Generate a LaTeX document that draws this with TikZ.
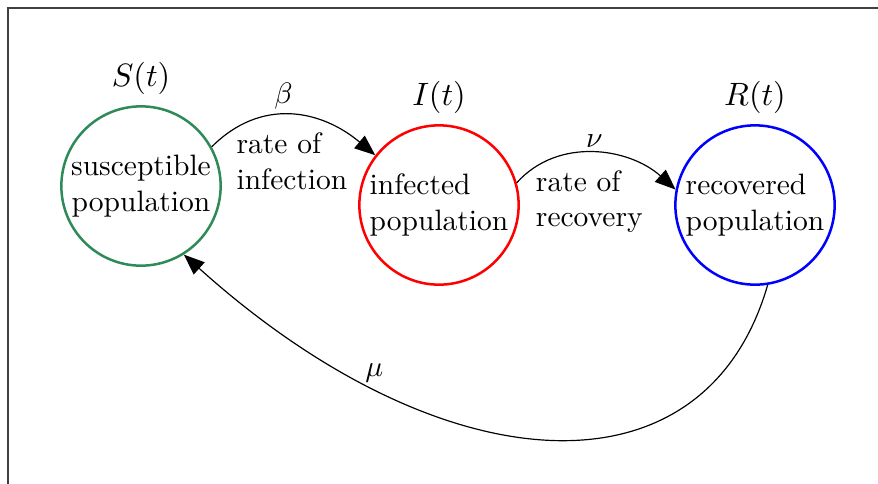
\documentclass[tikz,border=0pt]{standalone}
\usetikzlibrary{arrows.meta}
\definecolor{seagreen}{RGB}{46,139,87}
\begin{document}
\begin{tikzpicture}[x=0.339pt,y=0.339pt,->,>={Triangle[length=7pt,width=5.5pt]},
    every label/.append style={font=\fontsize{11}{13}\selectfont}]
      \tikzstyle{compartment}=[circle,minimum size=54pt,inner sep=0pt,line width=0.85pt,align=left,label distance=2.5pt]
      \tikzstyle{rate}=[align=left,below=2.5pt]
      \tikzstyle{coef}=[above,inner sep=1.6pt]
      \useasboundingbox (0,0) rectangle (878,-483);
      \draw[-,black!75] (8,-500) -- (8,-8) -- (900,-8);

      \node[compartment,draw=seagreen,align=center,label=above:$S(t)$] (S) at (141,-186) {susceptible\\population};
      \node[compartment,draw=red,label=above:$I(t)$] (I) at (439,-205) {infected\\population};
      \node[compartment,draw=blue,label=above:$R(t)$] (R) at (755,-205) {recovered\\population};

      \draw (S.29) to[out=45,in=140,looseness=1.1] node[coef,pos=0.45]{$\beta$} node[rate]{rate of\\infection} (I.142);
      \draw (I.16) to[out=48,in=138] node[coef]{$\nu$} node[rate,pos=0.47]{rate of\\recovery} (R.169);
      \draw (R.-81) .. controls (704,-505) and (440,-485) .. node[coef,pos=0.75]{$\mu$} (S.-58);
    \end{tikzpicture}
\end{document}
